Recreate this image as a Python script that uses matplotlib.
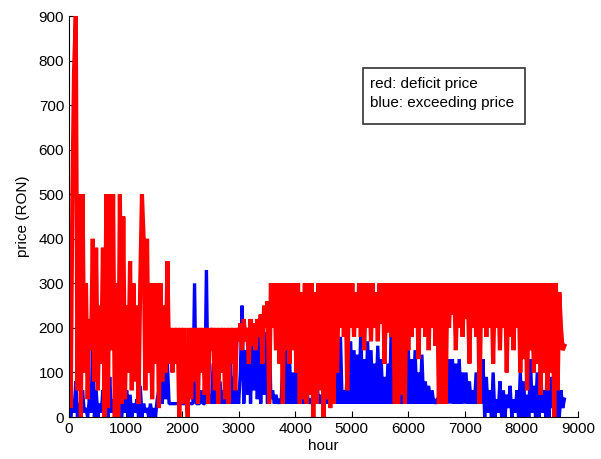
import numpy as np
import matplotlib.pyplot as plt

plt.rcParams['font.family'] = ['Liberation Sans', 'DejaVu Sans']

step_h = 30

deficit_price = [
    380, 20, 500, 780, 900, 60, 500, 0, 500, 100,
    300, 40, 220, 150, 400, 80, 380, 60, 250, 120,
    380, 0, 500, 20, 500, 150, 500, 0, 300, 0,
    500, 30, 450, 40, 250, 100, 350, 60, 300, 80,
    250, 30, 300, 500, 400, 60, 400, 100, 300, 40,
    300, 120, 300, 20, 300, 80, 250, 100, 350, 120,
    200, 100, 200, 120, 200, 0, 200, 30, 200, 60,
    0, 200, 40, 200, 80, 200, 30, 200, 100, 200,
    50, 200, 30, 200, 150, 200, 60, 200, 30, 200,
    100, 200, 40, 200, 30, 200, 120, 200, 60, 200,
    170, 210, 150, 220, 170, 200, 120, 220, 160, 210,
    150, 220, 180, 230, 120, 250, 200, 260, 30, 300,
    200, 300, 150, 300, 120, 300, 30, 300, 150, 300,
    120, 300, 150, 300, 100, 300, 30, 280, 40, 300,
    30, 300, 50, 300, 0, 280, 30, 300, 60, 300,
    0, 300, 40, 300, 20, 300, 30, 300, 100, 300,
    200, 300, 180, 300, 60, 300, 200, 300, 180, 280,
    200, 300, 180, 300, 150, 300, 200, 300, 170, 300,
    200, 280, 170, 300, 210, 300, 120, 300, 190, 300,
    180, 300, 30, 300, 30, 300, 50, 300, 30, 300,
    150, 300, 180, 300, 200, 300, 130, 300, 200, 300,
    180, 300, 150, 300, 200, 300, 160, 300, 30, 300,
    30, 300, 30, 300, 200, 300, 230, 300, 150, 300,
    200, 300, 180, 300, 220, 300, 120, 300, 200, 300,
    180, 300, 30, 300, 200, 300, 180, 300, 200, 300,
    120, 300, 200, 300, 150, 300, 200, 300, 100, 300,
    180, 300, 150, 300, 200, 300, 100, 300, 130, 300,
    60, 300, 150, 300, 100, 300, 120, 300, 50, 300,
    100, 300, 60, 300, 100, 300, 0, 300, 60, 280,
    200, 150, 160,
]

exceeding_price = [
    130, 0, 40, 10, 80, 0, 30, 0, 60, 10,
    20, 0, 40, 10, 170, 0, 60, 0, 30, 10,
    60, 0, 20, 0, 90, 10, 40, 0, 230, 0,
    50, 0, 40, 10, 60, 0, 50, 0, 30, 10,
    40, 0, 70, 0, 30, 10, 20, 0, 30, 0,
    20, 0, 40, 60, 100, 30, 160, 40, 120, 30,
    30, 30, 30, 30, 30, 30, 30, 30, 30, 30,
    30, 30, 30, 30, 300, 30, 30, 30, 60, 30,
    30, 330, 30, 50, 30, 120, 30, 160, 30, 80,
    30, 60, 30, 100, 30, 150, 30, 90, 30, 60,
    30, 100, 250, 30, 150, 50, 200, 30, 190, 60,
    200, 40, 180, 30, 200, 50, 190, 30, 200, 40,
    60, 30, 50, 30, 40, 30, 120, 30, 150, 30,
    130, 30, 100, 30, 150, 30, 60, 30, 120, 30,
    80, 30, 40, 30, 60, 30, 100, 30, 50, 30,
    40, 30, 80, 30, 60, 30, 50, 30, 200, 30,
    180, 30, 60, 30, 100, 30, 170, 30, 150, 30,
    140, 30, 200, 30, 130, 30, 170, 30, 150, 30,
    120, 30, 160, 30, 130, 30, 90, 30, 120, 30,
    220, 30, 60, 30, 100, 30, 80, 30, 140, 30,
    150, 30, 130, 30, 150, 30, 100, 30, 140, 30,
    80, 30, 70, 30, 60, 30, 40, 30, 50, 30,
    60, 30, 130, 30, 130, 30, 130, 30, 120, 30,
    130, 30, 100, 30, 100, 30, 80, 30, 60, 30,
    100, 30, 50, 30, 130, 0, 90, 10, 60, 0,
    100, 0, 40, 10, 80, 0, 60, 0, 50, 20,
    70, 0, 40, 10, 60, 0, 100, 0, 80, 0,
    50, 0, 130, 10, 70, 0, 100, 0, 120, 10,
    60, 0, 150, 0, 90, 20, 60, 0, 80, 0,
    60, 20, 40,
]

hours = np.arange(len(deficit_price)) * step_h

fig = plt.figure(figsize=(6.01, 4.59), dpi=100)
ax = fig.add_axes([0.1148, 0.0915, 0.8469, 0.8735])

ax.plot(hours, exceeding_price, color='#0000ff', linewidth=2.4,
        solid_joinstyle='bevel')
ax.plot(hours, deficit_price, color='#ff0000', linewidth=3.0,
        solid_joinstyle='bevel')

ax.set_xlim(0, 9000)
ax.set_ylim(0, 900)
ax.set_xticks(np.arange(0, 9001, 1000))
ax.set_yticks(np.arange(0, 901, 100))
ax.tick_params(direction='in', length=4, labelsize=11, colors='black')
ax.spines['top'].set_visible(False)
ax.spines['right'].set_visible(False)
ax.set_xlabel('hour', fontsize=11, labelpad=2)
ax.set_ylabel('price (RON)', fontsize=11, labelpad=6)

# legend box drawn as in the original
ax.add_patch(plt.Rectangle((0.578, 0.731), 0.318, 0.139, transform=ax.transAxes,
                           facecolor='white', edgecolor='#333333', linewidth=1.2, zorder=5))
ax.text(0.591, 0.830, 'red: deficit price', transform=ax.transAxes,
        fontsize=11, va='center', zorder=6)
ax.text(0.591, 0.783, 'blue: exceeding price', transform=ax.transAxes,
        fontsize=11, va='center', zorder=6)

fig.savefig('out.png', dpi=100)
